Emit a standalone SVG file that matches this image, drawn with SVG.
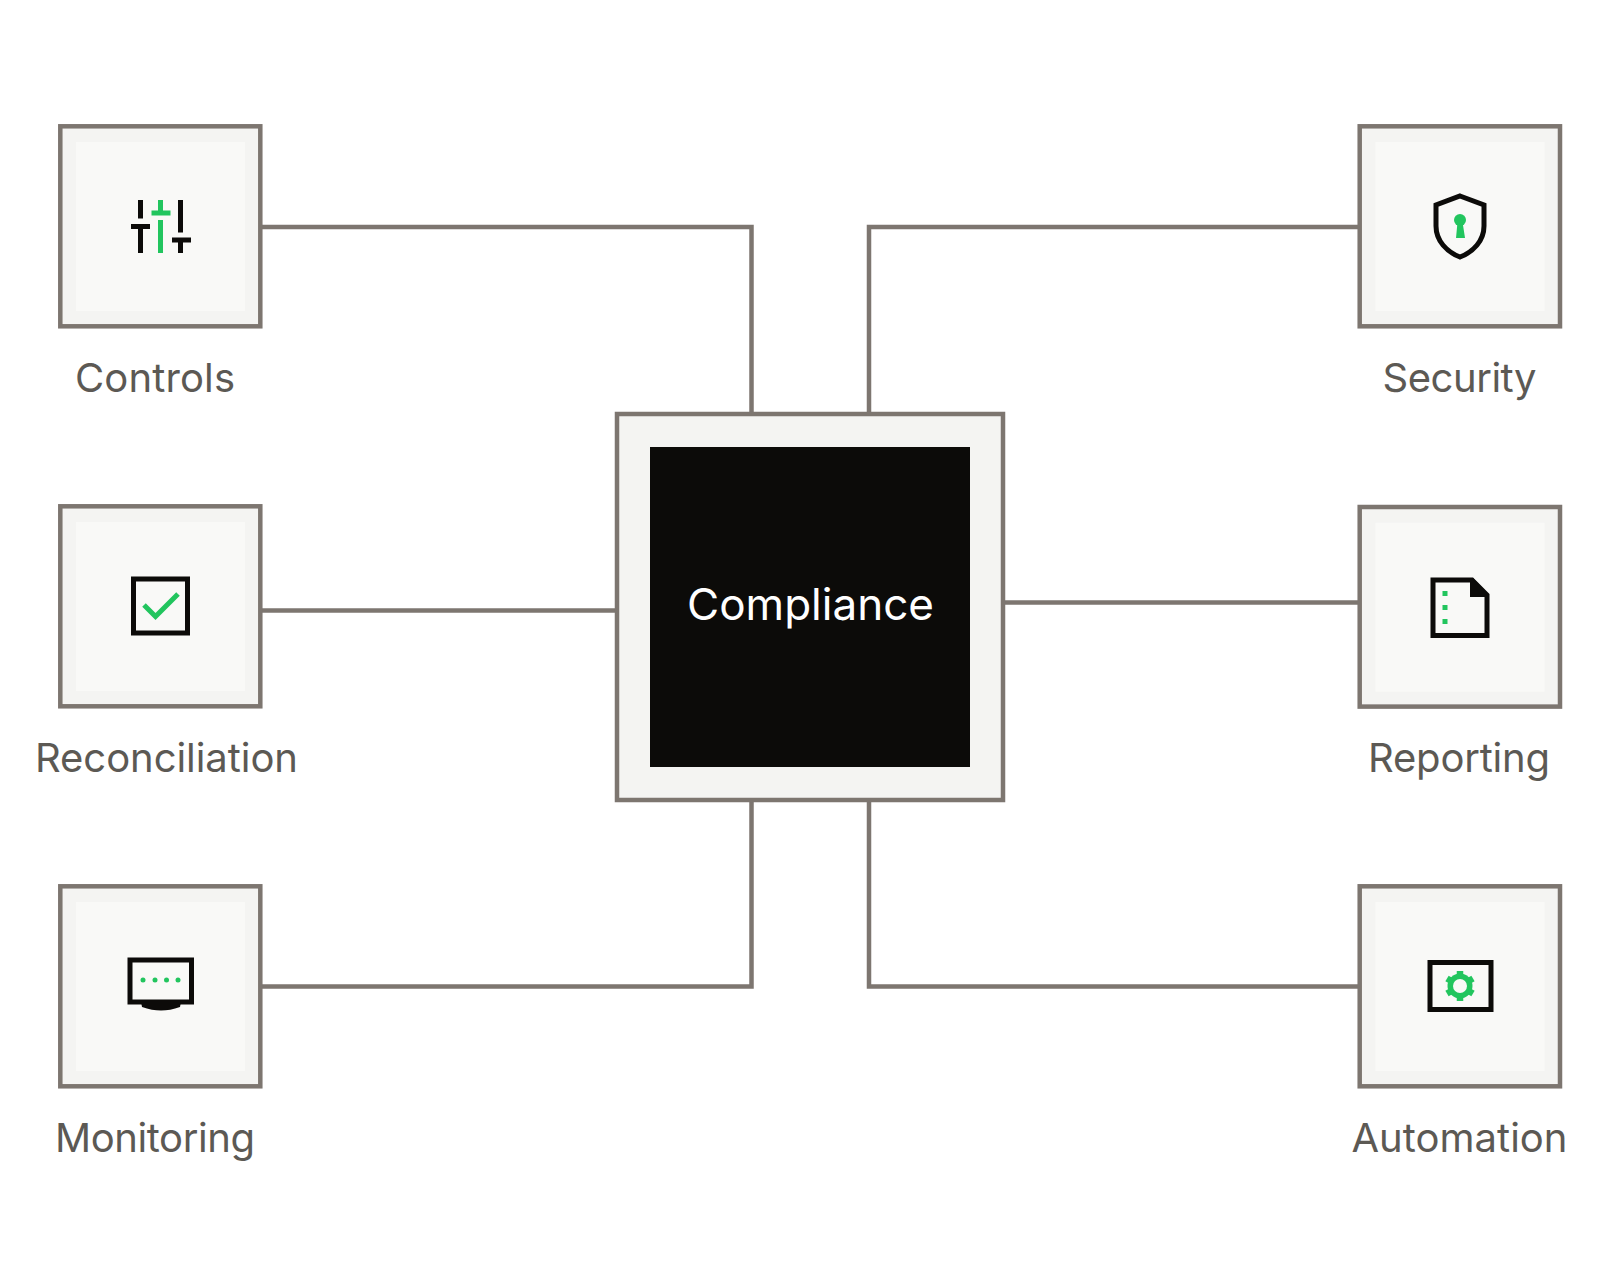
<svg xmlns="http://www.w3.org/2000/svg" width="1600" height="1285" viewBox="0 0 1600 1285">
<style>
.box{fill:#f4f4f2;stroke:#7d7670;stroke-width:4.500}
.in{fill:#f9f9f7}
.c{fill:none;stroke:#7d7670;stroke-width:4.500}
.l{font-family:Inter,"Liberation Sans",sans-serif;font-size:40px;fill:#5c5954;text-anchor:middle}
.k{fill:#0c0b09}
.g{fill:#22c55e}
.o{fill:none;stroke:#0c0b09;stroke-width:5}
</style>
<rect width="1600" height="1285" fill="#fff"/>
<g id="connectors">
<path class="c" d="M262 227H751.500V412"/>
<path class="c" d="M1358 227H869V412"/>
<path class="c" d="M262 610.500H615"/>
<path class="c" d="M1358 602.500H1005"/>
<path class="c" d="M262 986.500H751.500V802"/>
<path class="c" d="M1358 986.500H869V802"/>
</g>
<g id="controls">
<rect class="box" x="60.300" y="126.300" width="200" height="200"/><rect class="in" x="76" y="142" width="169" height="169"/>
<rect class="k" x="138" y="200" width="5" height="18.500"/><rect class="k" x="131" y="224" width="19" height="5"/><rect class="k" x="138" y="229" width="5" height="24"/>
<rect class="g" x="158" y="200" width="5" height="11"/><rect class="g" x="151.500" y="210.500" width="19" height="5"/><rect class="g" x="158" y="220" width="5" height="33"/>
<rect class="k" x="178" y="200" width="5" height="32.500"/><rect class="k" x="172" y="237.500" width="19" height="5"/><rect class="k" x="178" y="242" width="5" height="11"/>
<text class="l" x="155" y="392" textLength="160">Controls</text>
</g>
<g id="reconciliation">
<rect class="box" x="60.300" y="506.300" width="200" height="200"/><rect class="in" x="76" y="522" width="169" height="169"/>
<rect class="o" x="133.500" y="579" width="54" height="54"/>
<path d="M144 605L155.500 616.500L178 594" fill="none" stroke="#22c55e" stroke-width="5"/>
<text class="l" x="166.500" y="772" textLength="263">Reconciliation</text>
</g>
<g id="monitoring">
<rect class="box" x="60.300" y="886.300" width="200" height="200"/><rect class="in" x="76" y="902" width="169" height="169"/>
<rect class="o" x="130" y="960" width="61.500" height="42"/>
<path class="k" d="M141 1002H181L180 1007Q170 1010.500 161 1010.500Q152 1010.500 142 1007Z"/>
<circle class="g" cx="143" cy="980" r="2.500"/><circle class="g" cx="155" cy="980" r="2.500"/><circle class="g" cx="166.500" cy="980" r="2.500"/><circle class="g" cx="178" cy="980" r="2.500"/>
<text class="l" x="155" y="1151.500" textLength="200">Monitoring</text>
</g>
<g id="security">
<rect class="box" x="1359.700" y="126.300" width="200.300" height="200"/><rect class="in" x="1375.500" y="142" width="169" height="169"/>
<path d="M1460 196L1484 205V226C1484 241 1473 252 1460 257C1447 252 1436 241 1436 226V205Z" fill="none" stroke="#0c0b09" stroke-width="5"/>
<circle class="g" cx="1460" cy="220" r="6"/><path class="g" d="M1457.500 222H1462.500L1465 238H1456Z"/>
<text class="l" x="1459.500" y="392" textLength="154">Security</text>
</g>
<g id="reporting">
<rect class="box" x="1359.700" y="507" width="200.300" height="199.600"/><rect class="in" x="1375.500" y="522.700" width="169" height="169"/>
<path class="o" d="M1433 580H1472L1487 595V635.500H1433Z"/>
<path class="k" d="M1470 578H1473L1489 595V597H1470Z"/>
<rect class="g" x="1442.500" y="591" width="5" height="5"/><rect class="g" x="1442.500" y="605" width="5" height="5"/><rect class="g" x="1442.500" y="619" width="5" height="5"/>
<text class="l" x="1459" y="772" textLength="182">Reporting</text>
</g>
<g id="automation">
<rect class="box" x="1359.700" y="886.300" width="200.300" height="200"/><rect class="in" x="1375.500" y="902" width="169" height="169"/>
<rect class="o" x="1430" y="962.500" width="61" height="47"/>
<g stroke="#22c55e" stroke-width="6.500"><path d="M1460 971V1001"/><path d="M1447 978.500L1473 993.500"/><path d="M1447 993.500L1473 978.500"/></g>
<circle cx="1460" cy="986" r="12.500" fill="#22c55e"/>
<circle cx="1460" cy="986" r="7" fill="#f9f9f7"/>
<text class="l" x="1459.500" y="1151.500" textLength="216">Automation</text>
</g>
<g id="compliance">
<rect class="box" x="617" y="414" width="386" height="386"/>
<rect x="650" y="447" width="320" height="320" fill="#0c0b09"/>
<text x="810.500" y="619.500" font-family="Inter,'Liberation Sans',sans-serif" font-size="44" fill="#fff" text-anchor="middle" textLength="247">Compliance</text>
</g>
</svg>
